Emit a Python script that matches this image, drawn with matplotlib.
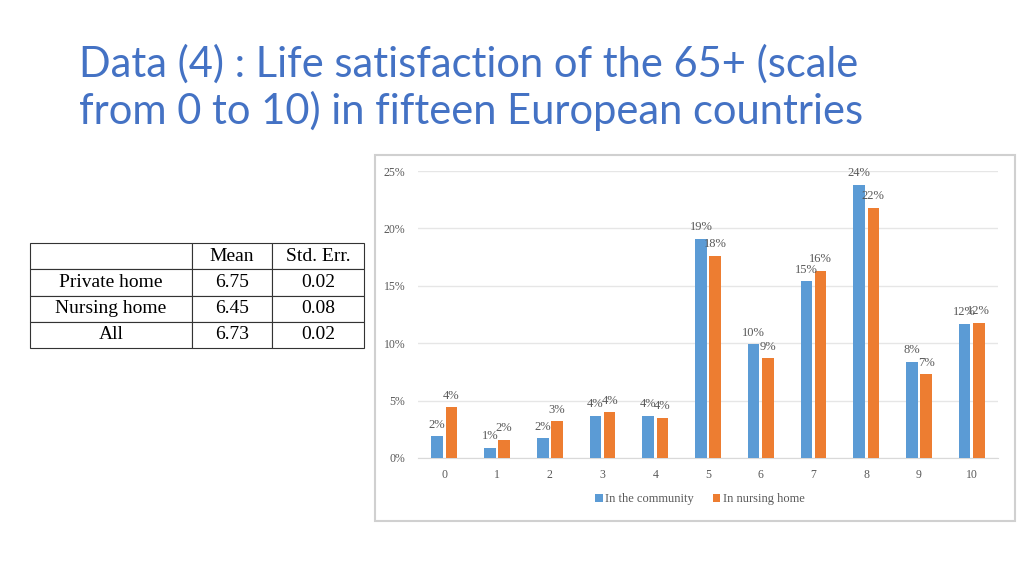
import numpy as np
import matplotlib
matplotlib.use("Agg")
import matplotlib.pyplot as plt
from matplotlib.patches import Rectangle

# life satisfaction scores 0..10, share of respondents (%)
scores = [str(i) for i in range(11)]
community = [1.9, 0.9, 1.7, 3.7, 3.7, 19.1, 9.9, 15.4, 23.8, 8.4, 11.7]
nursing = [4.4, 1.6, 3.2, 4.0, 3.5, 17.6, 8.7, 16.3, 21.8, 7.3, 11.8]
series_names = ["In the community", "In nursing home"]

# summary table
table_cols = ["", "Mean", "Std. Err."]
table_rows = ["Private home", "Nursing home", "All"]
table_mean = ["6.75", "6.45", "6.73"]
table_se = ["0.02", "0.08", "0.02"]

title = "Data (4) : Life satisfaction of the 65+ (scale\nfrom 0 to 10) in fifteen European countries"

blue = "#5B9BD5"
orange = "#ED7D31"
gray_txt = "#595959"
W, H = 1024, 576

fig = plt.figure(figsize=(W / 100, H / 100), dpi=100)
fig.patch.set_facecolor("white")

def fx(px):
    return px / W

def fy(py):
    return 1 - py / H

# title
fig.text(fx(79), fy(44), title, color="#4472C4", fontsize=30, family="Lato",
         va="top", ha="left", linespacing=1.22)

# chart frame (pasted image look)
fig.add_artist(Rectangle((fx(375), fy(521)), fx(1015) - fx(375), fy(155) - fy(521),
                         transform=fig.transFigure, facecolor="white",
                         edgecolor="#d0d0d0", linewidth=1.5, zorder=-1))

ax = fig.add_axes([fx(418), fy(458), fx(998) - fx(418), fy(171) - fy(458)])
ax.set_zorder(2)
ax.patch.set_alpha(0)
x = np.arange(len(scores))
w = 0.22
b1 = ax.bar(x - 0.135, community, w, color=blue, label=series_names[0], zorder=3)
b2 = ax.bar(x + 0.135, nursing, w, color=orange, label=series_names[1], zorder=3)

for bars, vals in ((b1, community), (b2, nursing)):
    for rect, v in zip(bars, vals):
        ax.annotate(f"{round(v):d}%", (rect.get_x() + rect.get_width() / 2, v),
                    xytext=(0, 4), textcoords="offset points", ha="center", va="bottom",
                    fontsize=9, color=gray_txt, family="Liberation Serif")

ax.set_xlim(-0.5, 10.5)
ax.set_ylim(0, 25)
ax.set_yticks(range(0, 26, 5))
ax.set_yticklabels([f"{t}%" for t in range(0, 26, 5)])
ax.set_xticks(x)
ax.set_xticklabels(scores)
ax.grid(axis="y", color="#e6e6e6", linewidth=1, zorder=0)
for s in ["top", "right", "left"]:
    ax.spines[s].set_visible(False)
ax.spines["bottom"].set_color("#d9d9d9")
ax.tick_params(axis="both", length=0, colors=gray_txt, labelsize=8.5)
ax.tick_params(axis="x", pad=8)
ax.tick_params(axis="y", pad=9)
for lab in ax.get_xticklabels() + ax.get_yticklabels():
    lab.set_family("Liberation Serif")

leg = fig.legend(handles=[b1, b2], loc="center", bbox_to_anchor=(fx(700), fy(499)),
                 ncol=2, frameon=False, handlelength=0.6, handleheight=0.6,
                 handletextpad=0.2, columnspacing=1.5,
                 prop={"family": "Liberation Serif", "size": 9})
for t in leg.get_texts():
    t.set_color(gray_txt)

# table
tax = fig.add_axes([fx(30), fy(348), fx(364) - fx(30), fy(243) - fy(348)])
tax.axis("off")
cells = [table_cols] + [[r, m, s] for r, m, s in zip(table_rows, table_mean, table_se)]
tbl = tax.table(cellText=cells, bbox=[0, 0, 1, 1], cellLoc="center",
                colWidths=[162, 81, 92])
tbl.auto_set_font_size(False)
for (r, c), cell in tbl.get_celld().items():
    cell.set_edgecolor("#333333")
    cell.set_linewidth(0.8)
    cell.get_text().set_fontsize(14)
    cell.get_text().set_family("Liberation Serif")
    cell.get_text().set_color("black")

fig.savefig("out.png", dpi=100)
